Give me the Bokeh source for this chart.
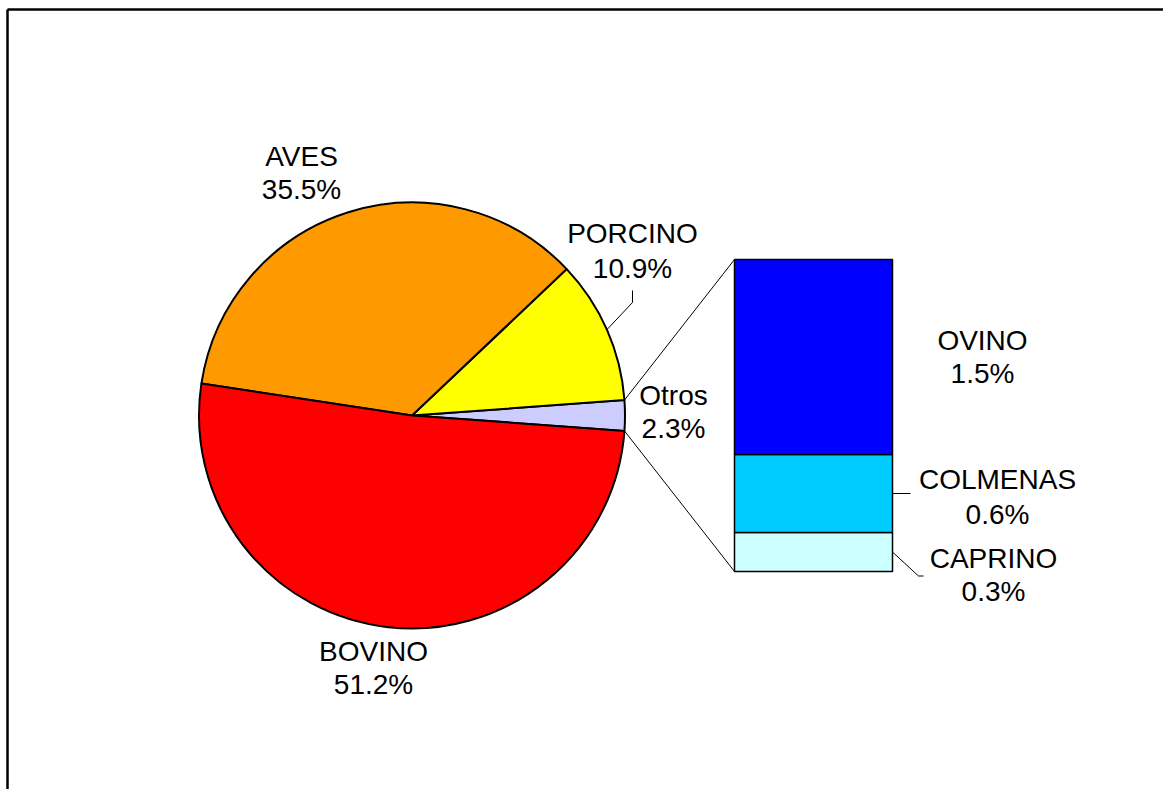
import math
from bokeh.plotting import figure
from bokeh.models import Range1d
from bokeh.core.properties import value
from bokeh.embed import file_html
from bokeh.resources import INLINE

# ---- data ----
pie_labels = ["Otros", "PORCINO", "AVES", "BOVINO"]
pie_values = [2.3, 10.9, 35.5, 51.2]
pie_colors = ["#CCCCFF", "#FFFF00", "#FF9900", "#FF0000"]

bar_labels = ["CAPRINO", "COLMENAS", "OVINO"]
bar_values = [0.3, 0.6, 1.5]
bar_colors = ["#CCFFFF", "#00CCFF", "#0000FF"]

FONT = "Liberation Sans"
FS = "28px"

W, H = 1163, 789
p = figure(width=W, height=H, output_backend="svg", toolbar_location=None,
           x_range=Range1d(0, W), y_range=Range1d(0, H), min_border=0)
p.axis.visible = False
p.grid.visible = False
p.outline_line_color = None
p.background_fill_color = "white"
p.border_fill_color = "white"


def px(X):
    return X


def py(Y):
    return H - Y


# frame (left & top edges of the chart area)
p.line([px(7), px(7)], [py(9), py(800)], line_color="black", line_width=2.5)
p.line([px(7), px(1200)], [py(9), py(9)], line_color="black", line_width=2.5)

# ---- pie ----
cx, cy, R = px(411.5), py(415), 213
total = sum(pie_values)
angles = [v / total * 2 * math.pi for v in pie_values]
start = -angles[0] / 2
starts, ends = [], []
a = start
for ang in angles:
    starts.append(a)
    ends.append(a + ang)
    a += ang

p.wedge(x=[cx] * 4, y=[cy] * 4, radius=R, start_angle=starts, end_angle=ends,
        fill_color=pie_colors, line_color="black", line_width=2)

# ---- bar of "Otros" ----
bx0, bx1 = px(734), px(892)
btop, bbot = py(259), py(571)
scale = (btop - bbot) / sum(bar_values)
bottoms, tops = [], []
b = bbot
for v in bar_values:
    bottoms.append(b)
    tops.append(b + v * scale)
    b += v * scale
p.quad(left=[bx0] * 3, right=[bx1] * 3, bottom=bottoms, top=tops,
       fill_color=bar_colors, line_color="black", line_width=1.5)

# connectors from Otros slice edges to bar corners
p.line([cx + R * math.cos(ends[0]), bx0], [cy + R * math.sin(ends[0]), btop],
       line_color="black", line_width=1)
p.line([cx + R * math.cos(starts[0]), bx0], [cy + R * math.sin(starts[0]), bbot],
       line_color="black", line_width=1)

# leader for PORCINO (points at middle of slice)
mid = (starts[1] + ends[1]) / 2
p.line([px(632), px(632), cx + R * math.cos(mid)],
       [py(290), py(302), cy + R * math.sin(mid)],
       line_color="black", line_width=1)

# leaders for bar labels
mid_col = (bottoms[1] + tops[1]) / 2
p.line([bx1, px(910)], [mid_col, mid_col], line_color="black", line_width=1)
mid_cap = (bottoms[0] + tops[0]) / 2
p.line([bx1, px(918), px(923)], [mid_cap, mid_cap - 24, mid_cap - 24],
       line_color="black", line_width=1)

# ---- labels ----
label_pos = {
    "AVES": (301, 155.5),
    "PORCINO": (632, 233),
    "Otros": (673, 395),
    "BOVINO": (373, 651),
    "OVINO": (982, 340),
    "COLMENAS": (997, 479),
    "CAPRINO": (993, 558),
}
gaps = {"PORCINO": 35, "COLMENAS": 35}

names = pie_labels + bar_labels
vals = pie_values + bar_values
tx, ty, tt = [], [], []
for n, v in zip(names, vals):
    X, Y = label_pos[n]
    g = gaps.get(n, 33)
    tx += [px(X), px(X)]
    ty += [py(Y), py(Y + g)]
    tt += [n, f"{v:.1f}%"]

p.text(x=tx, y=ty, text=tt, text_font=value(FONT), text_font_size=FS,
       text_align="center", text_baseline="middle", text_color="black")

open("out.html", "w").write(file_html(p, INLINE))
